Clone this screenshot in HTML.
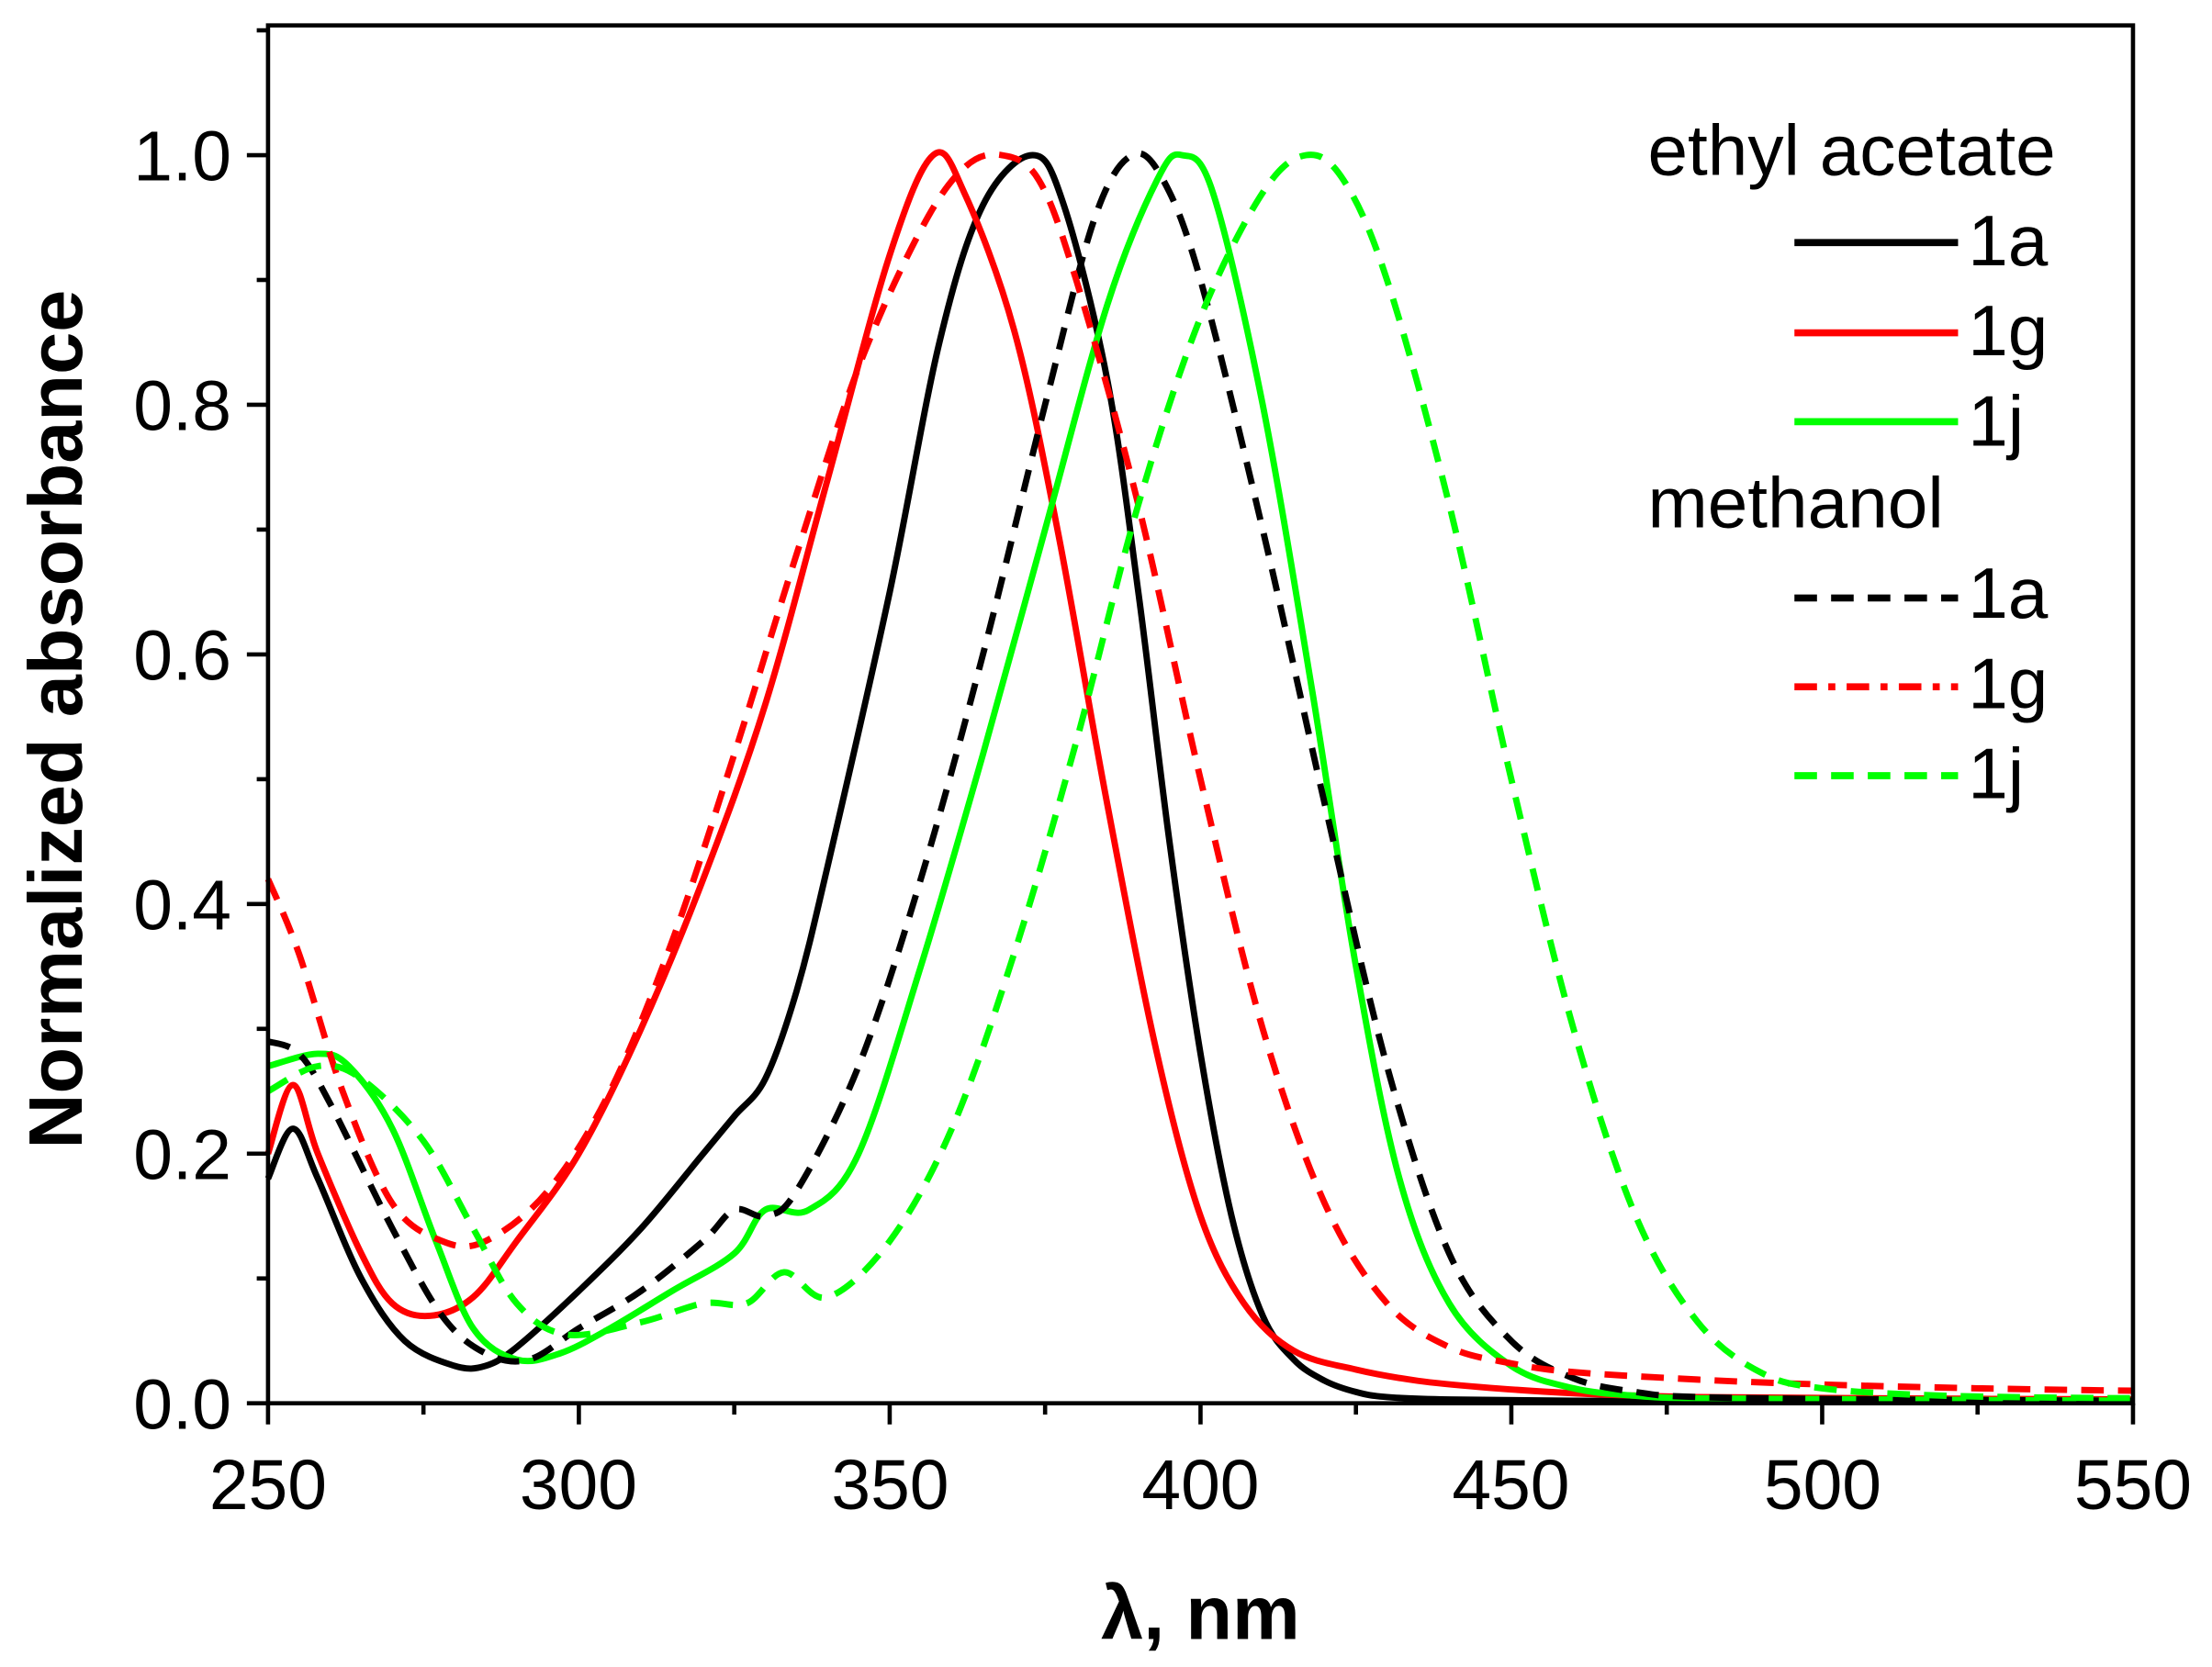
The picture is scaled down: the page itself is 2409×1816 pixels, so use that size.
<!DOCTYPE html>
<html><head><meta charset="utf-8"><style>
html,body{margin:0;padding:0;background:#fff}
svg{display:block}
text{font-family:"Liberation Sans",sans-serif;fill:#000}
</style></head><body>
<svg id="s" width="2409" height="1816" viewBox="0 0 1568 1182" xmlns="http://www.w3.org/2000/svg">
<rect x="0" y="0" width="1568" height="1182" fill="#fff"/>
<g id="curves"></g>
<rect x="190" y="18" width="1322" height="977" fill="none" stroke="#000" stroke-width="3"/>
<g id="ticks" stroke="#000" stroke-width="3"></g>
<g font-size="50">
<text x="190" y="1070" text-anchor="middle">250</text>
<text x="410" y="1070" text-anchor="middle">300</text>
<text x="631" y="1070" text-anchor="middle">350</text>
<text x="851" y="1070" text-anchor="middle">400</text>
<text x="1071" y="1070" text-anchor="middle">450</text>
<text x="1292" y="1070" text-anchor="middle">500</text>
<text x="1512" y="1070" text-anchor="middle">550</text>
<text x="164" y="1013" text-anchor="end">0.0</text>
<text x="164" y="836" text-anchor="end">0.2</text>
<text x="164" y="659" text-anchor="end">0.4</text>
<text x="164" y="482" text-anchor="end">0.6</text>
<text x="164" y="305" text-anchor="end">0.8</text>
<text x="164" y="128" text-anchor="end">1.0</text>
</g>
<text x="851" y="1162" text-anchor="middle" font-size="54" font-weight="bold">λ, nm</text>
<text transform="translate(58,510) rotate(-90)" text-anchor="middle" font-size="54" font-weight="bold">Normalized absorbance</text>
<g font-size="51">
<text x="1168" y="124">ethyl acetate</text>
<text x="1395" y="188">1a</text>
<text x="1395" y="252">1g</text>
<text x="1395" y="316">1j</text>
<text x="1168" y="374">methanol</text>
<text x="1395" y="438">1a</text>
<text x="1395" y="502">1g</text>
<text x="1395" y="566">1j</text>
</g>
<g stroke-width="5">
<line x1="1272" y1="172" x2="1388" y2="172" stroke="#000"/>
<line x1="1272" y1="236" x2="1388" y2="236" stroke="#f00"/>
<line x1="1272" y1="299" x2="1388" y2="299" stroke="#0f0"/>
<line x1="1272" y1="424" x2="1388" y2="424" stroke="#000" stroke-dasharray="16,10"/>
<line x1="1272" y1="487" x2="1388" y2="487" stroke="#f00" stroke-dasharray="16,8,5,8"/>
<line x1="1272" y1="550" x2="1388" y2="550" stroke="#0f0" stroke-dasharray="16,10"/>
</g>
</svg>
<script>
var X=function(l){return 190+(l-250)*1322/300},Y=function(a){return 995-a*885};
var t=document.getElementById('ticks'),h='';
for(var l=250;l<=550;l+=25){var x=X(l);h+='<line x1="'+x+'" y1="995" x2="'+x+'" y2="'+(l%50==0?1010:1003)+'"/>';}
for(var i=0;i<=11;i++){var y=Y(i/10);h+='<line x1="190" y1="'+y+'" x2="'+(i%2==0?175:182)+'" y2="'+y+'"/>';}
t.innerHTML=h;
var S=[
["#000","",[[250,0.18],[254,0.22],[258,0.18],[265,0.1],[272,0.05],[280,0.03],[285,0.03],[290,0.045],[300,0.09],[310,0.14],[320,0.2],[325,0.23],[330,0.26],[335,0.33],[340,0.43],[350,0.65],[358,0.85],[365,0.96],[373,1.0],[378,0.96],[385,0.82],[390,0.65],[395,0.45],[400,0.28],[405,0.15],[410,0.07],[415,0.035],[420,0.018],[425,0.009],[430,0.005],[440,0.003],[460,0.002],[500,0.001],[550,0.001]]],
["#f00","",[[250,0.2],[254,0.255],[258,0.2],[265,0.12],[270,0.08],[276,0.07],[283,0.085],[290,0.13],[300,0.2],[310,0.3],[320,0.42],[330,0.56],[340,0.74],[350,0.92],[357,1.0],[362,0.97],[370,0.86],[377,0.7],[385,0.48],[393,0.28],[400,0.15],[407,0.08],[415,0.042],[425,0.027],[435,0.018],[445,0.013],[460,0.008],[480,0.005],[510,0.004],[550,0.003]]],
["#0f0","",[[250,0.27],[258,0.28],[263,0.27],[270,0.22],[277,0.13],[283,0.06],[290,0.035],[297,0.04],[305,0.06],[315,0.09],[325,0.12],[330,0.155],[337,0.155],[345,0.2],[355,0.35],[365,0.52],[375,0.7],[385,0.88],[393,0.98],[397,1.0],[402,0.97],[410,0.8],[418,0.57],[425,0.35],[432,0.18],[440,0.08],[450,0.03],[460,0.012],[470,0.006],[480,0.004],[510,0.003],[550,0.002]]],
["#000","16,10",[[250,0.29],[255,0.28],[260,0.24],[270,0.14],[278,0.07],[285,0.04],[292,0.035],[300,0.06],[310,0.09],[320,0.13],[325,0.155],[330,0.15],[335,0.17],[345,0.27],[355,0.42],[365,0.6],[375,0.8],[383,0.95],[389,1.0],[394,0.98],[400,0.9],[410,0.7],[420,0.48],[430,0.27],[440,0.12],[450,0.05],[460,0.02],[470,0.009],[480,0.005],[510,0.003],[550,0.002]]],
["#f00","16,10",[[250,0.42],[255,0.36],[262,0.25],[270,0.16],[278,0.13],[285,0.13],[295,0.17],[305,0.25],[315,0.37],[325,0.52],[335,0.68],[345,0.83],[355,0.94],[362,0.99],[368,1.0],[374,0.98],[380,0.9],[390,0.72],[400,0.5],[410,0.3],[420,0.16],[430,0.08],[440,0.045],[450,0.032],[460,0.025],[480,0.019],[500,0.015],[525,0.012],[550,0.01]]],
["#0f0","16,10",[[250,0.25],[258,0.27],[265,0.26],[275,0.21],[283,0.14],[290,0.08],[298,0.055],[310,0.065],[320,0.08],[327,0.08],[333,0.105],[340,0.085],[350,0.13],[360,0.22],[370,0.36],[380,0.53],[390,0.72],[400,0.87],[410,0.97],[417,1.0],[423,0.98],[430,0.9],[440,0.72],[450,0.5],[460,0.3],[470,0.15],[480,0.065],[490,0.025],[500,0.012],[520,0.006],[550,0.004]]]
];
var g='';
S.forEach(function(s){var p=s[2].map(function(q){return [X(q[0]),Y(q[1])]});
var d='M'+p[0][0].toFixed(1)+','+p[0][1].toFixed(1);
for(var i=0;i<p.length-1;i++){var a=p[i-1]||p[i],b=p[i],c=p[i+1],e=p[i+2]||c;
d+=' C'+(b[0]+(c[0]-a[0])/6).toFixed(1)+','+(b[1]+(c[1]-a[1])/6).toFixed(1)+' '+(c[0]-(e[0]-b[0])/6).toFixed(1)+','+(c[1]-(e[1]-b[1])/6).toFixed(1)+' '+c[0].toFixed(1)+','+c[1].toFixed(1);}
g+='<path d="'+d+'" fill="none" stroke="'+s[0]+'" stroke-width="4.5"'+(s[1]?' stroke-dasharray="'+s[1]+'"':'')+'/>';});
document.getElementById('curves').innerHTML=g;
</script>
</body></html>
